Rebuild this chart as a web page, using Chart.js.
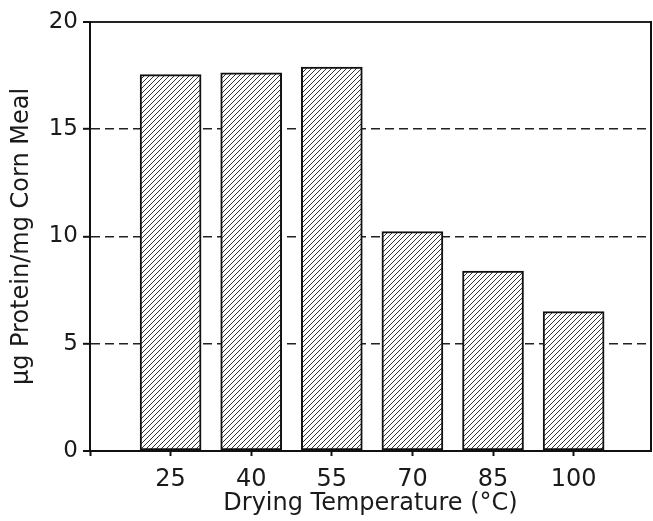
<!DOCTYPE html>
<html>
<head>
<meta charset="utf-8">
<script src="https://cdn.jsdelivr.net/npm/chart.js@4.4.1/dist/chart.umd.min.js"></script>
<style>
  html, body { margin: 0; padding: 0; background: #ffffff; }
  #wrap { width: 653px; height: 521px; }
</style>
</head>
<body>
<div id="wrap"><canvas id="c" width="653" height="521"></canvas></div>
<script>
// ---- data ----
const categories = ['25', '40', '55', '70', '85', '100'];
const proteinValues = [17.55, 17.63, 17.9, 10.23, 8.39, 6.5];
const yTickValues = [0, 5, 10, 15, 20];
const xTitle = 'Drying Temperature (\u00B0C)';
const yTitle = '\u00B5g Protein/mg Corn Meal';

// ---- hatch pattern ----
function makeHatch() {
  const s = 5;
  const c = document.createElement('canvas');
  c.width = s; c.height = s;
  const g = c.getContext('2d');
  g.fillStyle = '#ffffff';
  g.fillRect(0, 0, s, s);
  g.strokeStyle = '#333333';
  g.lineWidth = 1;
  g.beginPath();
  g.moveTo(-1, s + 1); g.lineTo(s + 1, -1);
  g.moveTo(-1, 1); g.lineTo(1, -1);
  g.moveTo(s - 1, s + 1); g.lineTo(s + 1, s - 1);
  g.stroke();
  return document.getElementById('c').getContext('2d').createPattern(c, 'repeat');
}

const frameRight = {
  id: 'frameRight',
  afterDraw(chart) {
    const a = chart.chartArea, ctx = chart.ctx;
    ctx.save();
    ctx.strokeStyle = '#111';
    ctx.lineWidth = 2;
    ctx.beginPath();
    ctx.moveTo(a.right, a.top - 1);
    ctx.lineTo(a.right, a.bottom);
    ctx.stroke();
    ctx.restore();
  }
};

Chart.defaults.font.family = "'DejaVu Sans', 'Liberation Sans', Arial, sans-serif";
Chart.defaults.color = '#1a1a1a';

new Chart(document.getElementById('c'), {
  type: 'bar',
  data: {
    datasets: [{
      data: categories.map((c, i) => ({ x: i + 1, y: proteinValues[i] })),
      backgroundColor: makeHatch(),
      borderColor: '#111',
      borderWidth: 2,
      borderSkipped: false,
      barThickness: 61
    }]
  },
  options: {
    responsive: false,
    animation: false,
    events: [],
    layout: { padding: { left: 0, right: 2, top: 22, bottom: 0 } },
    plugins: { legend: { display: false }, tooltip: { enabled: false } },
    scales: {
      x: {
        type: 'linear',
        offset: false,
        min: 0,
        max: 6.96,
        afterBuildTicks: s => { s.ticks = [0].concat(categories.map((c, i) => i + 1)).map(v => ({ value: v })); },
        afterFit: s => { s.height = 70; },
        ticks: {
          autoSkip: false,
          maxRotation: 0,
          padding: 9,
          font: { size: 24 },
          color: '#1a1a1a',
          callback: v => categories[v - 1] !== undefined ? categories[v - 1] : ''
        },
        grid: {
          display: true,
          offset: false,
          drawOnChartArea: false,
          drawTicks: true,
          tickLength: 5,
          tickColor: '#111',
          tickWidth: 2
        },
        border: { display: true, color: '#111', width: 2 },
        title: {
          display: true,
          text: xTitle,
          font: { size: 24 },
          color: '#1a1a1a',
          padding: { top: 0, bottom: 3 }
        }
      },
      y: {
        min: 0,
        max: 20,
        afterBuildTicks: s => { s.ticks = yTickValues.map(v => ({ value: v })); },
        afterFit: s => { s.width = 90; },
        ticks: {
          padding: 5,
          font: { size: 23 },
          color: '#1a1a1a'
        },
        grid: {
          display: true,
          drawTicks: true,
          tickLength: 7,
          tickColor: '#111',
          tickWidth: 2,
          color: '#222',
          lineWidth: ctx => (ctx.tick && (ctx.tick.value === 0 || ctx.tick.value === 20)) ? 2 : 1.6
        },
        border: {
          display: true,
          color: '#111',
          width: 2,
          dash: ctx => (ctx.type === 'tick' && ctx.tick.value > 0 && ctx.tick.value < 20) ? [9, 5] : []
        },
        title: {
          display: true,
          text: yTitle,
          font: { size: 24 },
          color: '#1a1a1a',
          padding: { top: 7, bottom: 0 }
        }
      }
    }
  },
  plugins: [frameRight]
});
</script>
</body>
</html>
